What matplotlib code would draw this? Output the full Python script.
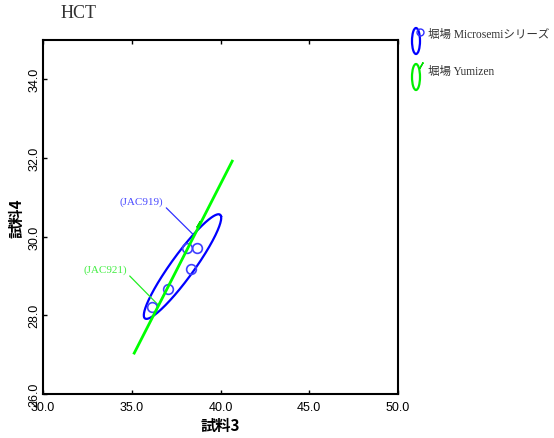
import numpy as np
import matplotlib.pyplot as plt
from matplotlib.patches import Ellipse
from matplotlib.lines import Line2D

# 点データ（試料3, 試料4）
micro_x = [38.10, 38.69, 38.34, 37.06, 36.16]
micro_y = [29.70, 29.70, 29.19, 28.68, 28.20]

# 楕円（中心・長軸の端・短軸の半径）
ell_center = [37.86, 29.24]
ell_tip = [40.03, 30.52]
ell_minor = 0.42

# Yumizen 回帰線
yumi_line_x = [35.14, 40.66]
yumi_line_y = [27.04, 31.92]
yumi_mark_x = [38.73]
yumi_mark_y = [30.31]

xticks = [30.0, 35.0, 40.0, 45.0, 50.0]
yticks = [26.0, 28.0, 30.0, 32.0, 34.0]

legend_labels = ['堀場 Microsemiシリーズ', '堀場 Yumizen']

serif = ['Liberation Serif', 'Noto Sans CJK JP']
sans = ['Liberation Sans', 'DejaVu Sans']
cjk = ['Noto Sans CJK JP', 'DejaVu Sans']

fig = plt.figure(figsize=(5.54, 4.39), dpi=100)
ax = fig.add_axes([43 / 554, 1 - 395 / 439, 355 / 554, 354 / 439])

# 楕円
c = np.array(ell_center)
a = np.array(ell_tip) - c
u = a / np.linalg.norm(a)
perp = np.array([-u[1], u[0]])
t = np.linspace(0, 2 * np.pi, 300)
ex = c[0] + a[0] * np.cos(t) + ell_minor * perp[0] * np.sin(t)
ey = c[1] + a[1] * np.cos(t) + ell_minor * perp[1] * np.sin(t)
ax.plot(ex, ey, color='#0000ff', lw=1.6, zorder=3)

ax.plot(micro_x, micro_y, 'o', ms=7, mfc='none', mec='#4040ff', mew=1.2, zorder=4)

ax.plot(yumi_line_x, yumi_line_y, color='#00ff00', lw=2.0, zorder=5)
ax.plot(yumi_mark_x, yumi_mark_y, marker=(2, 2, -30), ms=5, color='#00dd00', mew=1.0, ls='none', zorder=5)

# 注釈
ax.annotate('(JAC919)', xy=(38.45, 30.06), xytext=(35.56, 30.9), color='#4a4aff',
            fontsize=8, family=serif, ha='center', va='center',
            arrowprops=dict(arrowstyle='-', color='#3030ff', lw=0.9,
                            shrinkA=0, shrinkB=0, relpos=(1.0, 0.1)))
ax.annotate('(JAC921)', xy=(36.5, 28.26), xytext=(33.5, 29.17), color='#44ee44',
            fontsize=8, family=serif, ha='center', va='center',
            arrowprops=dict(arrowstyle='-', color='#22ee22', lw=0.9,
                            shrinkA=0, shrinkB=0, relpos=(1.0, 0.1)))

ax.set_xlim(30, 50)
ax.set_ylim(26, 35)
ax.set_xticks(xticks)
ax.set_yticks(yticks)
ax.set_xticklabels([f'{v:.1f}' for v in xticks], family=sans, fontsize=9)
ax.set_yticklabels([f'{v:.1f}' for v in yticks], family=sans, fontsize=9,
                   rotation=90, va='center')
ax.tick_params(direction='in', length=3, width=1, top=True, right=False)
ax.tick_params(axis='x', pad=5)
ax.tick_params(axis='y', pad=2)
for s in ax.spines.values():
    s.set_linewidth(1.5)

ax.set_xlabel('試料3', family=cjk, fontsize=11, fontweight='bold', labelpad=3)
ax.set_ylabel('試料4', family=cjk, fontsize=11, fontweight='bold', labelpad=3)

fig.text(61 / 554, 1 - 14 / 439, 'HCT', family=serif, fontsize=13, va='center', ha='left', color='#333333')

# 凡例（手描き）
icon_colors = ['#0000ff', '#00ee00']
row_y = [1 - 42 / 439, 1 - 78 / 439]
text_y = [1 - 35 / 439, 1 - 72 / 439]
for i, lab in enumerate(legend_labels):
    fig.patches.append(Ellipse((416 / 554, row_y[i]), 8 / 554, 26 / 439,
                               transform=fig.transFigure, fill=False,
                               ec=icon_colors[i], lw=1.6))
    fig.text(428 / 554, text_y[i], lab, family=serif, fontsize=8.3,
             va='center', ha='left', color='#333333')
fig.lines.append(Line2D([420 / 554], [1 - 33 / 439], marker='o', ms=5, mfc='none',
                        mec='#3030ff', mew=1.0, transform=fig.transFigure))
fig.lines.append(Line2D([421 / 554], [1 - 66 / 439], marker=(2, 2, -30), ms=5,
                        color='#00dd00', mew=1.0, transform=fig.transFigure))

fig.savefig('out.png', dpi=100)
